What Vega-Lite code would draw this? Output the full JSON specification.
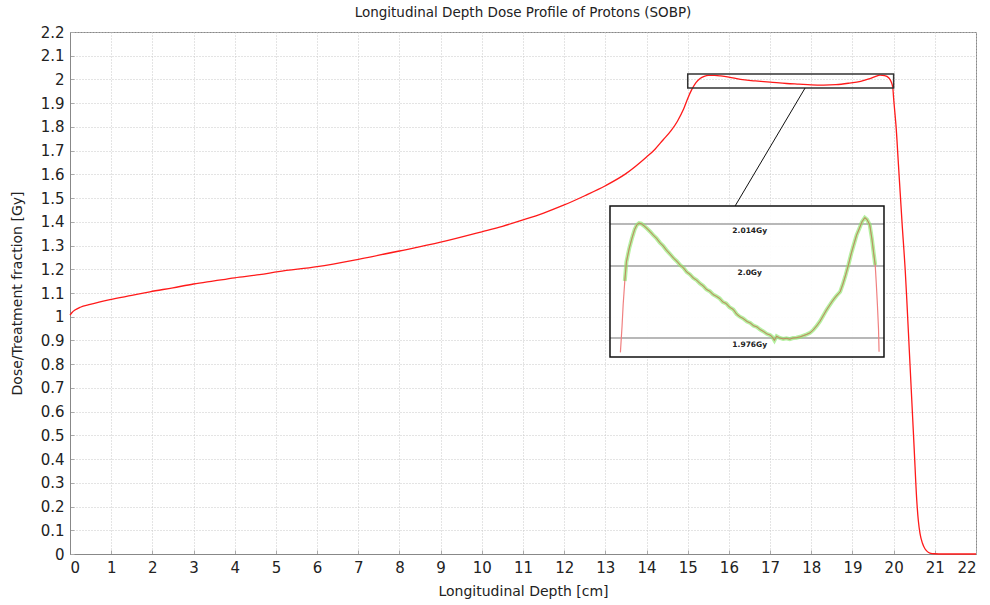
{
  "$schema": "https://vega.github.io/schema/vega-lite/v6.json",
  "width": 906,
  "height": 522,
  "autosize": {"type": "none"},
  "padding": {"left": 70, "top": 32, "right": 14, "bottom": 51},
  "background": "white",
  "title": {"text": "Longitudinal Depth Dose Profile of Protons (SOBP)", "fontSize": 13.5, "fontWeight": "normal", "font": "DejaVu Sans", "color": "#222", "offset": 6},
  "config": {
    "view": {"stroke": "#888", "strokeWidth": 1},
    "axis": {
      "labelFont": "DejaVu Sans", "labelFontSize": 15, "labelColor": "#222", "labelOverlap": false,
      "titleFont": "DejaVu Sans", "titleFontSize": 14, "titleFontWeight": "normal", "titleColor": "#222",
      "gridColor": "#c8c8c8", "gridDash": [1, 2], "gridWidth": 1,
      "domainColor": "#888", "tickColor": "#aaa", "tickSize": -4,
      "labelPadding": 10
    }
  },
  "datasets": {
    "main": [
      {"d": 0, "v": 1.007}, {"d": 0.05, "v": 1.018}, {"d": 0.12, "v": 1.028}, {"d": 0.25, "v": 1.04},
      {"d": 0.49, "v": 1.052}, {"d": 0.97, "v": 1.072}, {"d": 1.5, "v": 1.09}, {"d": 1.94, "v": 1.105},
      {"d": 2.5, "v": 1.122}, {"d": 3.0, "v": 1.138}, {"d": 3.5, "v": 1.151}, {"d": 4.0, "v": 1.164},
      {"d": 4.6, "v": 1.177}, {"d": 5.06, "v": 1.19}, {"d": 6.0, "v": 1.211}, {"d": 7.0, "v": 1.242},
      {"d": 8.0, "v": 1.277}, {"d": 9.0, "v": 1.314}, {"d": 10.0, "v": 1.358}, {"d": 10.5, "v": 1.381},
      {"d": 11.0, "v": 1.408}, {"d": 11.5, "v": 1.437}, {"d": 12.0, "v": 1.471}, {"d": 12.5, "v": 1.51},
      {"d": 13.0, "v": 1.552}, {"d": 13.5, "v": 1.603}, {"d": 14.0, "v": 1.673}, {"d": 14.2, "v": 1.705},
      {"d": 14.4, "v": 1.745}, {"d": 14.6, "v": 1.785}, {"d": 14.75, "v": 1.824}, {"d": 14.9, "v": 1.875},
      {"d": 15.0, "v": 1.92}, {"d": 15.1, "v": 1.958}, {"d": 15.2, "v": 1.987}, {"d": 15.3, "v": 2.004},
      {"d": 15.4, "v": 2.013}, {"d": 15.5, "v": 2.017}, {"d": 15.65, "v": 2.017}, {"d": 15.8, "v": 2.015},
      {"d": 16.0, "v": 2.01}, {"d": 16.28, "v": 2.0}, {"d": 16.64, "v": 1.994}, {"d": 17.0, "v": 1.989},
      {"d": 17.4, "v": 1.983}, {"d": 17.7, "v": 1.98}, {"d": 18.0, "v": 1.977}, {"d": 18.3, "v": 1.976},
      {"d": 18.6, "v": 1.978}, {"d": 18.9, "v": 1.984}, {"d": 19.2, "v": 1.992}, {"d": 19.4, "v": 2.002},
      {"d": 19.55, "v": 2.012}, {"d": 19.67, "v": 2.018}, {"d": 19.78, "v": 2.016}, {"d": 19.88, "v": 2.007},
      {"d": 19.94, "v": 1.99}, {"d": 19.98, "v": 1.965}, {"d": 20.0, "v": 1.92}, {"d": 20.03, "v": 1.86},
      {"d": 20.06, "v": 1.8}, {"d": 20.11, "v": 1.66}, {"d": 20.16, "v": 1.52}, {"d": 20.21, "v": 1.38},
      {"d": 20.25, "v": 1.28}, {"d": 20.28, "v": 1.2}, {"d": 20.32, "v": 1.07}, {"d": 20.38, "v": 0.86},
      {"d": 20.44, "v": 0.65}, {"d": 20.5, "v": 0.44}, {"d": 20.56, "v": 0.23}, {"d": 20.6, "v": 0.14},
      {"d": 20.64, "v": 0.087}, {"d": 20.7, "v": 0.045}, {"d": 20.76, "v": 0.022}, {"d": 20.82, "v": 0.01},
      {"d": 20.88, "v": 0.004}, {"d": 21.0, "v": 0.001}, {"d": 21.2, "v": 0}, {"d": 22, "v": 0}
    ],
    "inset": [
      {"d": 15.19, "v": 1.9712}, {"d": 15.22, "v": 1.98}, {"d": 15.24, "v": 1.987}, {"d": 15.27, "v": 1.995},
      {"d": 15.3, "v": 2.0014}, {"d": 15.35, "v": 2.0058}, {"d": 15.4, "v": 2.0092}, {"d": 15.45, "v": 2.0122},
      {"d": 15.49, "v": 2.0137}, {"d": 15.53, "v": 2.0143}, {"d": 15.57, "v": 2.0141}, {"d": 15.62, "v": 2.0134},
      {"d": 15.68, "v": 2.0124}, {"d": 15.73, "v": 2.0115}, {"d": 15.79, "v": 2.0103}, {"d": 15.85, "v": 2.0092},
      {"d": 15.91, "v": 2.0078}, {"d": 15.97, "v": 2.0067}, {"d": 16.03, "v": 2.0053}, {"d": 16.1, "v": 2.0039},
      {"d": 16.16, "v": 2.0026}, {"d": 16.22, "v": 2.0016}, {"d": 16.28, "v": 2.0003}, {"d": 16.34, "v": 1.9994},
      {"d": 16.4, "v": 1.998}, {"d": 16.46, "v": 1.9972}, {"d": 16.52, "v": 1.996}, {"d": 16.58, "v": 1.9953},
      {"d": 16.64, "v": 1.9942}, {"d": 16.7, "v": 1.9934}, {"d": 16.76, "v": 1.9922}, {"d": 16.82, "v": 1.9916},
      {"d": 16.88, "v": 1.9905}, {"d": 16.94, "v": 1.9899}, {"d": 17.0, "v": 1.9892}, {"d": 17.06, "v": 1.988},
      {"d": 17.12, "v": 1.9875}, {"d": 17.18, "v": 1.9863}, {"d": 17.25, "v": 1.9855}, {"d": 17.31, "v": 1.984},
      {"d": 17.37, "v": 1.9831}, {"d": 17.43, "v": 1.9825}, {"d": 17.5, "v": 1.9815}, {"d": 17.56, "v": 1.981},
      {"d": 17.62, "v": 1.9801}, {"d": 17.68, "v": 1.9797}, {"d": 17.74, "v": 1.9788}, {"d": 17.8, "v": 1.9782},
      {"d": 17.86, "v": 1.9774}, {"d": 17.92, "v": 1.977}, {"d": 17.96, "v": 1.9764}, {"d": 18.0, "v": 1.9752},
      {"d": 18.04, "v": 1.9766}, {"d": 18.1, "v": 1.976}, {"d": 18.16, "v": 1.9757}, {"d": 18.22, "v": 1.9759},
      {"d": 18.28, "v": 1.9756}, {"d": 18.34, "v": 1.976}, {"d": 18.4, "v": 1.9761}, {"d": 18.47, "v": 1.9764},
      {"d": 18.53, "v": 1.9768}, {"d": 18.59, "v": 1.9772}, {"d": 18.65, "v": 1.9777}, {"d": 18.71, "v": 1.9787},
      {"d": 18.77, "v": 1.98}, {"d": 18.83, "v": 1.9815}, {"d": 18.89, "v": 1.9834}, {"d": 18.95, "v": 1.9853},
      {"d": 19.01, "v": 1.987}, {"d": 19.07, "v": 1.9886}, {"d": 19.13, "v": 1.99}, {"d": 19.2, "v": 1.9914},
      {"d": 19.25, "v": 1.994}, {"d": 19.3, "v": 1.997}, {"d": 19.35, "v": 2.0003}, {"d": 19.4, "v": 2.004},
      {"d": 19.45, "v": 2.0072}, {"d": 19.5, "v": 2.0103}, {"d": 19.55, "v": 2.0125}, {"d": 19.6, "v": 2.0148},
      {"d": 19.65, "v": 2.0161}, {"d": 19.69, "v": 2.0155}, {"d": 19.74, "v": 2.0137}, {"d": 19.78, "v": 2.009},
      {"d": 19.81, "v": 2.0045}, {"d": 19.84, "v": 2.0003}, {"d": 19.86, "v": 1.994}, {"d": 19.88, "v": 1.987},
      {"d": 19.9, "v": 1.979}, {"d": 19.91, "v": 1.9714}
    ],
    "levels": [
      {"v": 2.014, "label": "2.014Gy"},
      {"v": 2.0, "label": "2.0Gy"},
      {"v": 1.976, "label": "1.976Gy"}
    ]
  },
  "layer": [
    {
      "layer": [
        {
          "data": {"name": "main"},
          "mark": {"type": "line", "color": "#ff1a1a", "strokeWidth": 1.3, "interpolate": "monotone"},
          "encoding": {
            "x": {"field": "d", "type": "quantitative", "scale": {"domain": [0, 22], "nice": false},
              "axis": {"title": "Longitudinal Depth [cm]", "values": [0,1,2,3,4,5,6,7,8,9,10,11,12,13,14,15,16,17,18,19,20,21,22], "format": "d", "titlePadding": 9, "labelOverlap": false}},
            "y": {"field": "v", "type": "quantitative", "scale": {"domain": [0, 2.2], "nice": false},
              "axis": {"title": "Dose/Treatment fraction [Gy]", "values": [0,0.1,0.2,0.3,0.4,0.5,0.6,0.7,0.8,0.9,1,1.1,1.2,1.3,1.4,1.5,1.6,1.7,1.8,1.9,2,2.1,2.2], "format": ".1~f", "titlePadding": 16, "labelOverlap": false}}
          }
        },
        {
          "data": {"values": [{"x1": 15, "x2": 20, "y1": 1.964, "y2": 2.023}]},
          "mark": {"type": "rect", "fill": null, "fillOpacity": 0, "stroke": "#333", "strokeWidth": 1.5},
          "encoding": {
            "x": {"field": "x1", "type": "quantitative", "scale": {"domain": [0, 22], "nice": false},
              "axis": {"title": "Longitudinal Depth [cm]", "values": [0,1,2,3,4,5,6,7,8,9,10,11,12,13,14,15,16,17,18,19,20,21,22], "format": "d", "titlePadding": 9, "labelOverlap": false}},
            "x2": {"field": "x2"},
            "y": {"field": "y1", "type": "quantitative", "scale": {"domain": [0, 2.2], "nice": false},
              "axis": {"title": "Dose/Treatment fraction [Gy]", "values": [0,0.1,0.2,0.3,0.4,0.5,0.6,0.7,0.8,0.9,1,1.1,1.2,1.3,1.4,1.5,1.6,1.7,1.8,1.9,2,2.1,2.2], "format": ".1~f", "titlePadding": 16, "labelOverlap": false}},
            "y2": {"field": "y2"}
          }
        },
        {
          "data": {"values": [{"x1": 17.85, "y1": 1.964, "x2": 16.15, "y2": 1.4665}]},
          "mark": {"type": "rule", "color": "#111", "strokeWidth": 1},
          "encoding": {
            "x": {"field": "x1", "type": "quantitative", "scale": {"domain": [0, 22], "nice": false},
              "axis": {"title": "Longitudinal Depth [cm]", "values": [0,1,2,3,4,5,6,7,8,9,10,11,12,13,14,15,16,17,18,19,20,21,22], "format": "d", "titlePadding": 9, "labelOverlap": false}},
            "x2": {"field": "x2"},
            "y": {"field": "y1", "type": "quantitative", "scale": {"domain": [0, 2.2], "nice": false},
              "axis": {"title": "Dose/Treatment fraction [Gy]", "values": [0,0.1,0.2,0.3,0.4,0.5,0.6,0.7,0.8,0.9,1,1.1,1.2,1.3,1.4,1.5,1.6,1.7,1.8,1.9,2,2.1,2.2], "format": ".1~f", "titlePadding": 16, "labelOverlap": false}},
            "y2": {"field": "y2"}
          }
        }
      ]
    },
    {
      "layer": [
        {
          "data": {"values": [{"x1": 15, "x2": 20, "y1": 1.9697, "y2": 2.02}]},
          "mark": {"type": "rect", "fill": "white", "fillOpacity": 0.93},
          "encoding": {
            "x": {"field": "x1", "type": "quantitative", "scale": {"domain": [5.146, 21.679], "nice": false, "zero": false}, "axis": null},
            "x2": {"field": "x2"},
            "y": {"field": "y1", "type": "quantitative", "scale": {"domain": [1.904, 2.078], "nice": false, "zero": false}, "axis": null},
            "y2": {"field": "y2"}
          }
        },
        {
          "data": {"name": "levels"},
          "mark": {"type": "rule", "color": "#b8b8b8", "strokeWidth": 2},
          "encoding": {
            "x": {"datum": 15, "type": "quantitative", "scale": {"domain": [5.146, 21.679], "nice": false, "zero": false}, "axis": null},
            "x2": {"datum": 20},
            "y": {"field": "v", "type": "quantitative", "scale": {"domain": [1.904, 2.078], "nice": false, "zero": false}, "axis": null}
          }
        },
        {
          "data": {"name": "levels"},
          "mark": {"type": "text", "font": "DejaVu Sans", "fontSize": 7.5, "fontWeight": "bold", "color": "#222", "baseline": "middle", "align": "center", "dy": 7},
          "encoding": {
            "x": {"datum": 17.55, "type": "quantitative", "scale": {"domain": [5.146, 21.679], "nice": false, "zero": false}, "axis": null},
            "y": {"field": "v", "type": "quantitative", "scale": {"domain": [1.904, 2.078], "nice": false, "zero": false}, "axis": null},
            "text": {"field": "label"}
          }
        },
        {
          "data": {"name": "inset"},
          "mark": {"type": "line", "color": "#f08080", "strokeWidth": 1.2},
          "encoding": {
            "x": {"field": "d", "type": "quantitative", "scale": {"domain": [5.146, 21.679], "nice": false, "zero": false}, "axis": null},
            "y": {"field": "v", "type": "quantitative", "scale": {"domain": [1.904, 2.078], "nice": false, "zero": false}, "axis": null}
          }
        },
        {
          "data": {"name": "inset"},
          "transform": [{"filter": "datum.d >= 15.27 && datum.d <= 19.84"}],
          "mark": {"type": "line", "color": "#8ee86e", "strokeWidth": 4, "opacity": 0.65},
          "encoding": {
            "x": {"field": "d", "type": "quantitative", "scale": {"domain": [5.146, 21.679], "nice": false, "zero": false}, "axis": null},
            "y": {"field": "v", "type": "quantitative", "scale": {"domain": [1.904, 2.078], "nice": false, "zero": false}, "axis": null}
          }
        },
        {
          "data": {"name": "inset"},
          "transform": [{"filter": "datum.d >= 15.27 && datum.d <= 19.84"}],
          "mark": {"type": "line", "color": "#c8584e", "strokeWidth": 1, "opacity": 0.5},
          "encoding": {
            "x": {"field": "d", "type": "quantitative", "scale": {"domain": [5.146, 21.679], "nice": false, "zero": false}, "axis": null},
            "y": {"field": "v", "type": "quantitative", "scale": {"domain": [1.904, 2.078], "nice": false, "zero": false}, "axis": null}
          }
        },
        {
          "data": {"values": [{"x1": 15, "x2": 20, "y1": 1.9697, "y2": 2.02}]},
          "mark": {"type": "rect", "fill": null, "fillOpacity": 0, "stroke": "#111", "strokeWidth": 1.5},
          "encoding": {
            "x": {"field": "x1", "type": "quantitative", "scale": {"domain": [5.146, 21.679], "nice": false, "zero": false}, "axis": null},
            "x2": {"field": "x2"},
            "y": {"field": "y1", "type": "quantitative", "scale": {"domain": [1.904, 2.078], "nice": false, "zero": false}, "axis": null},
            "y2": {"field": "y2"}
          }
        }
      ]
    }
  ],
  "resolve": {"scale": {"x": "independent", "y": "independent"}}
}
